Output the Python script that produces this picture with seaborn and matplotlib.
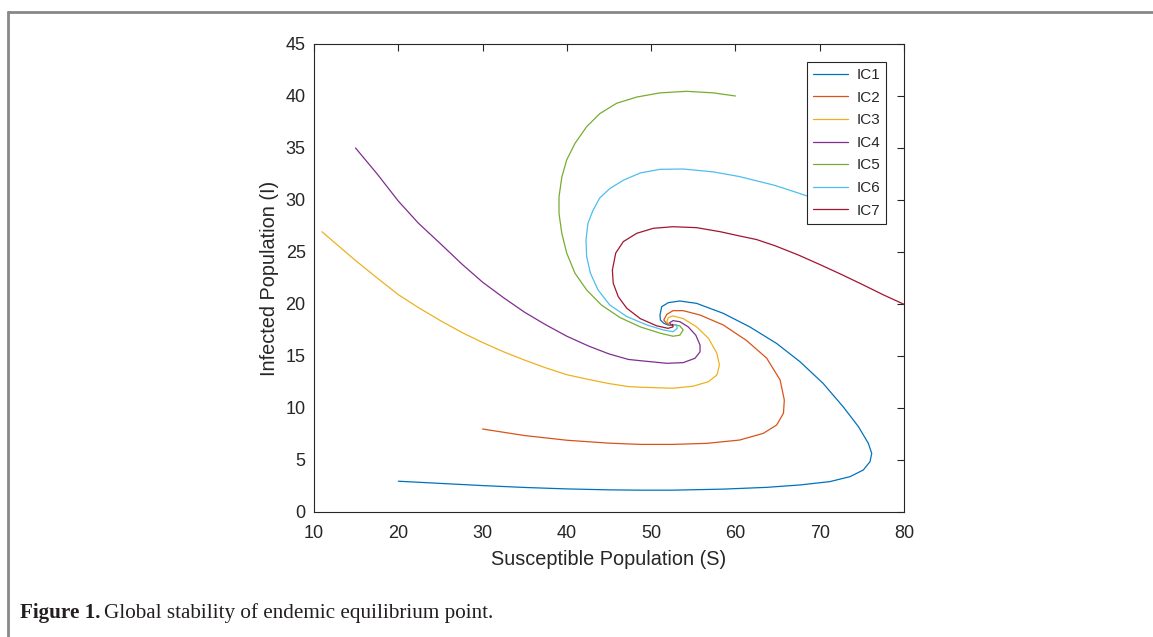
import matplotlib
matplotlib.use("Agg")
import matplotlib.pyplot as plt
from matplotlib.lines import Line2D
import seaborn as sns
import pandas as pd

# Phase trajectories (S, I) for seven initial conditions
ic1_s = [20, 25, 30, 35, 40, 45, 48.7, 52.6, 58.56, 63.7, 67.66, 71.2, 73.6, 75.17,
         75.97, 76.17, 75.77, 74.6, 72.8, 70.4, 67.66, 64.9, 61.7, 58.56, 55.4, 53.4,
         52.04, 51.25, 51.05, 51.1, 51.5, 52.0, 52.4, 52.5]
ic1_i = [2.96, 2.75, 2.54, 2.36, 2.22, 2.13, 2.1, 2.1, 2.2, 2.37, 2.6, 2.92, 3.4, 4.04,
         4.84, 5.64, 6.6, 8.2, 10.1, 12.37, 14.45, 16.2, 17.8, 19.1, 20.06, 20.29,
         20.13, 19.74, 18.94, 18.46, 18.15, 17.98, 17.95, 18.0]

ic2_s = [30, 35, 40, 45, 48.7, 52.6, 56.6, 60.5, 63.3, 64.9, 65.7, 65.8, 65.3, 63.7,
         61.3, 58.56, 55.8, 53.8, 52.6, 51.85, 51.5, 51.8, 52.2, 52.5]
ic2_i = [7.98, 7.35, 6.9, 6.62, 6.5, 6.5, 6.6, 6.92, 7.56, 8.37, 9.5, 10.77, 12.7, 14.8,
         16.5, 17.98, 18.94, 19.36, 19.36, 19.0, 18.46, 18.15, 18.0, 18.0]

ic3_s = [10.94, 14.9, 17.5, 20, 22.4, 25, 27.6, 30, 32.5, 35, 37.5, 40, 42.6, 45, 47.3,
         48.7, 52.6, 55.0, 56.8, 57.8, 58.1, 57.8, 56.8, 55.4, 53.8, 52.6, 52.04, 51.85,
         52.2, 52.5]
ic3_i = [26.95, 24.2, 22.5, 20.9, 19.65, 18.4, 17.24, 16.3, 15.4, 14.6, 13.86, 13.2,
         12.74, 12.35, 12.06, 12.0, 11.9, 12.1, 12.53, 13.17, 14.13, 15.26, 16.7, 17.8,
         18.6, 18.85, 18.7, 18.3, 18.05, 18.0]

ic4_s = [14.93, 17.5, 20, 22.4, 25, 27.6, 30, 32.5, 35, 37.5, 40, 42.6, 45, 47.3, 48.7,
         51.85, 53.8, 55.2, 55.8, 55.8, 55.3, 54.4, 53.4, 52.6, 52.2, 52.3, 52.5]
ic4_i = [35.0, 32.5, 29.9, 27.76, 25.8, 23.8, 22.1, 20.6, 19.2, 18.0, 16.9, 15.95, 15.2,
         14.67, 14.55, 14.3, 14.36, 14.78, 15.4, 16.06, 17.0, 17.8, 18.3, 18.4, 18.2,
         18.05, 18.0]

ic5_s = [60, 57.4, 54.2, 51.05, 48.3, 45.9, 43.9, 42.35, 40.97, 39.98, 39.4, 39.07,
         39.07, 39.4, 39.98, 40.97, 42.35, 44.1, 46.3, 48.7, 51.05, 52.6, 53.4, 53.8,
         53.4, 52.83, 52.5]
ic5_i = [40.0, 40.3, 40.45, 40.3, 39.9, 39.3, 38.3, 37.05, 35.45, 33.85, 32.2, 30.3,
         28.7, 26.8, 24.9, 22.95, 21.35, 19.9, 18.7, 17.8, 17.2, 16.9, 17.0, 17.5,
         17.9, 17.98, 18.0]

ic6_s = [70, 68.1, 64.7, 60.5, 57.4, 53.8, 51.05, 48.7, 46.7, 45.1, 43.9, 43.1, 42.5,
         42.27, 42.35, 42.8, 43.7, 45.1, 47.1, 49.5, 51.45, 52.6, 53.1, 53.0, 52.5]
ic6_i = [30.0, 30.5, 31.4, 32.25, 32.7, 32.98, 32.95, 32.6, 31.9, 31.1, 30.2, 29.0,
         27.76, 26.15, 24.55, 22.95, 21.35, 19.9, 18.8, 17.98, 17.5, 17.34, 17.66,
         18.0, 18.0]

ic7_s = [80, 77.5, 75, 72.5, 70, 67.5, 64.7, 62.5, 60.5, 58.2, 55.4, 52.6, 50.26, 48.3,
         46.7, 45.8, 45.4, 45.5, 46.1, 47.1, 48.7, 50.66, 52.0, 52.6, 52.55, 52.5]
ic7_i = [19.97, 20.9, 21.9, 22.87, 23.8, 24.7, 25.6, 26.2, 26.54, 26.95, 27.34, 27.43,
         27.28, 26.8, 26.0, 24.9, 23.27, 22.0, 20.7, 19.6, 18.6, 17.9, 17.66, 17.8,
         18.05, 18.0]

labels = ["IC1", "IC2", "IC3", "IC4", "IC5", "IC6", "IC7"]
colors = ["#0072BD", "#D95319", "#EDB120", "#7E2F8E", "#77AC30", "#4DBEEE", "#A2142F"]
x_ticks = [10, 20, 30, 40, 50, 60, 70, 80]
y_ticks = [0, 5, 10, 15, 20, 25, 30, 35, 40, 45]

series = [(ic1_s, ic1_i), (ic2_s, ic2_i), (ic3_s, ic3_i), (ic4_s, ic4_i),
          (ic5_s, ic5_i), (ic6_s, ic6_i), (ic7_s, ic7_i)]
frames = []
for lab, (s, i) in zip(labels, series):
    frames.append(pd.DataFrame({"S": s, "I": i, "IC": lab}))
df = pd.concat(frames, ignore_index=True)

sns.set_theme(style="white")
plt.rcParams["font.family"] = ["Liberation Sans", "DejaVu Sans"]

fig = plt.figure(figsize=(11.53, 6.37), dpi=100)
ax = fig.add_axes([314 / 1153, 1 - 512 / 637, 590 / 1153, 468 / 637])

sns.lineplot(data=df, x="S", y="I", hue="IC", units="IC", estimator=None, sort=False,
             palette=dict(zip(labels, colors)), linewidth=0.9, ax=ax, legend=False)

ax.set_xlim(10, 80)
ax.set_ylim(0, 45)
ax.set_xticks(x_ticks)
ax.set_yticks(y_ticks)
ax.tick_params(direction="in", length=5, width=0.8, top=True, right=True,
               labelsize=13, colors="#262626")
ax.tick_params(axis="x", pad=9)
ax.tick_params(axis="y", pad=6)
for sp in ax.spines.values():
    sp.set_color("#262626")
    sp.set_linewidth(0.8)
ax.set_xlabel("Susceptible Population (S)", fontsize=14.3, color="#262626", labelpad=6)
ax.set_ylabel("Infected Population (I)", fontsize=14.3, color="#262626", labelpad=5)

handles = [Line2D([0], [0], color=c, lw=0.9) for c in colors]
leg = ax.legend(handles, labels, loc="upper right", bbox_to_anchor=(0.97, 0.962),
                borderaxespad=0, fontsize=11, handlelength=2.3, handletextpad=0.5,
                labelspacing=0.56, frameon=True, fancybox=False, borderpad=0.42)
leg.get_frame().set_edgecolor("#262626")
leg.get_frame().set_linewidth(0.8)
leg.get_frame().set_facecolor("white")
leg.get_frame().set_alpha(1)

# page frame and caption
fig.add_artist(Line2D([8 / 1153, 1], [1 - 12 / 637, 1 - 12 / 637], color="#888888", lw=2))
fig.add_artist(Line2D([8 / 1153, 8 / 1153], [0, 1 - 12 / 637], color="#888888", lw=2))
cap_y = 1 - 618 / 637
t1 = fig.text(20 / 1153, cap_y, "Figure 1.", fontsize=15.2, fontweight="bold",
              family="Liberation Serif", color="#231f20")
renderer = fig.canvas.get_renderer()
bb = t1.get_window_extent(renderer)
fig.text((bb.x1 + 4) / 1153, cap_y, "Global stability of endemic equilibrium point.",
         fontsize=15.2, family="Liberation Serif", color="#231f20")

fig.savefig("out.png", dpi=100)
